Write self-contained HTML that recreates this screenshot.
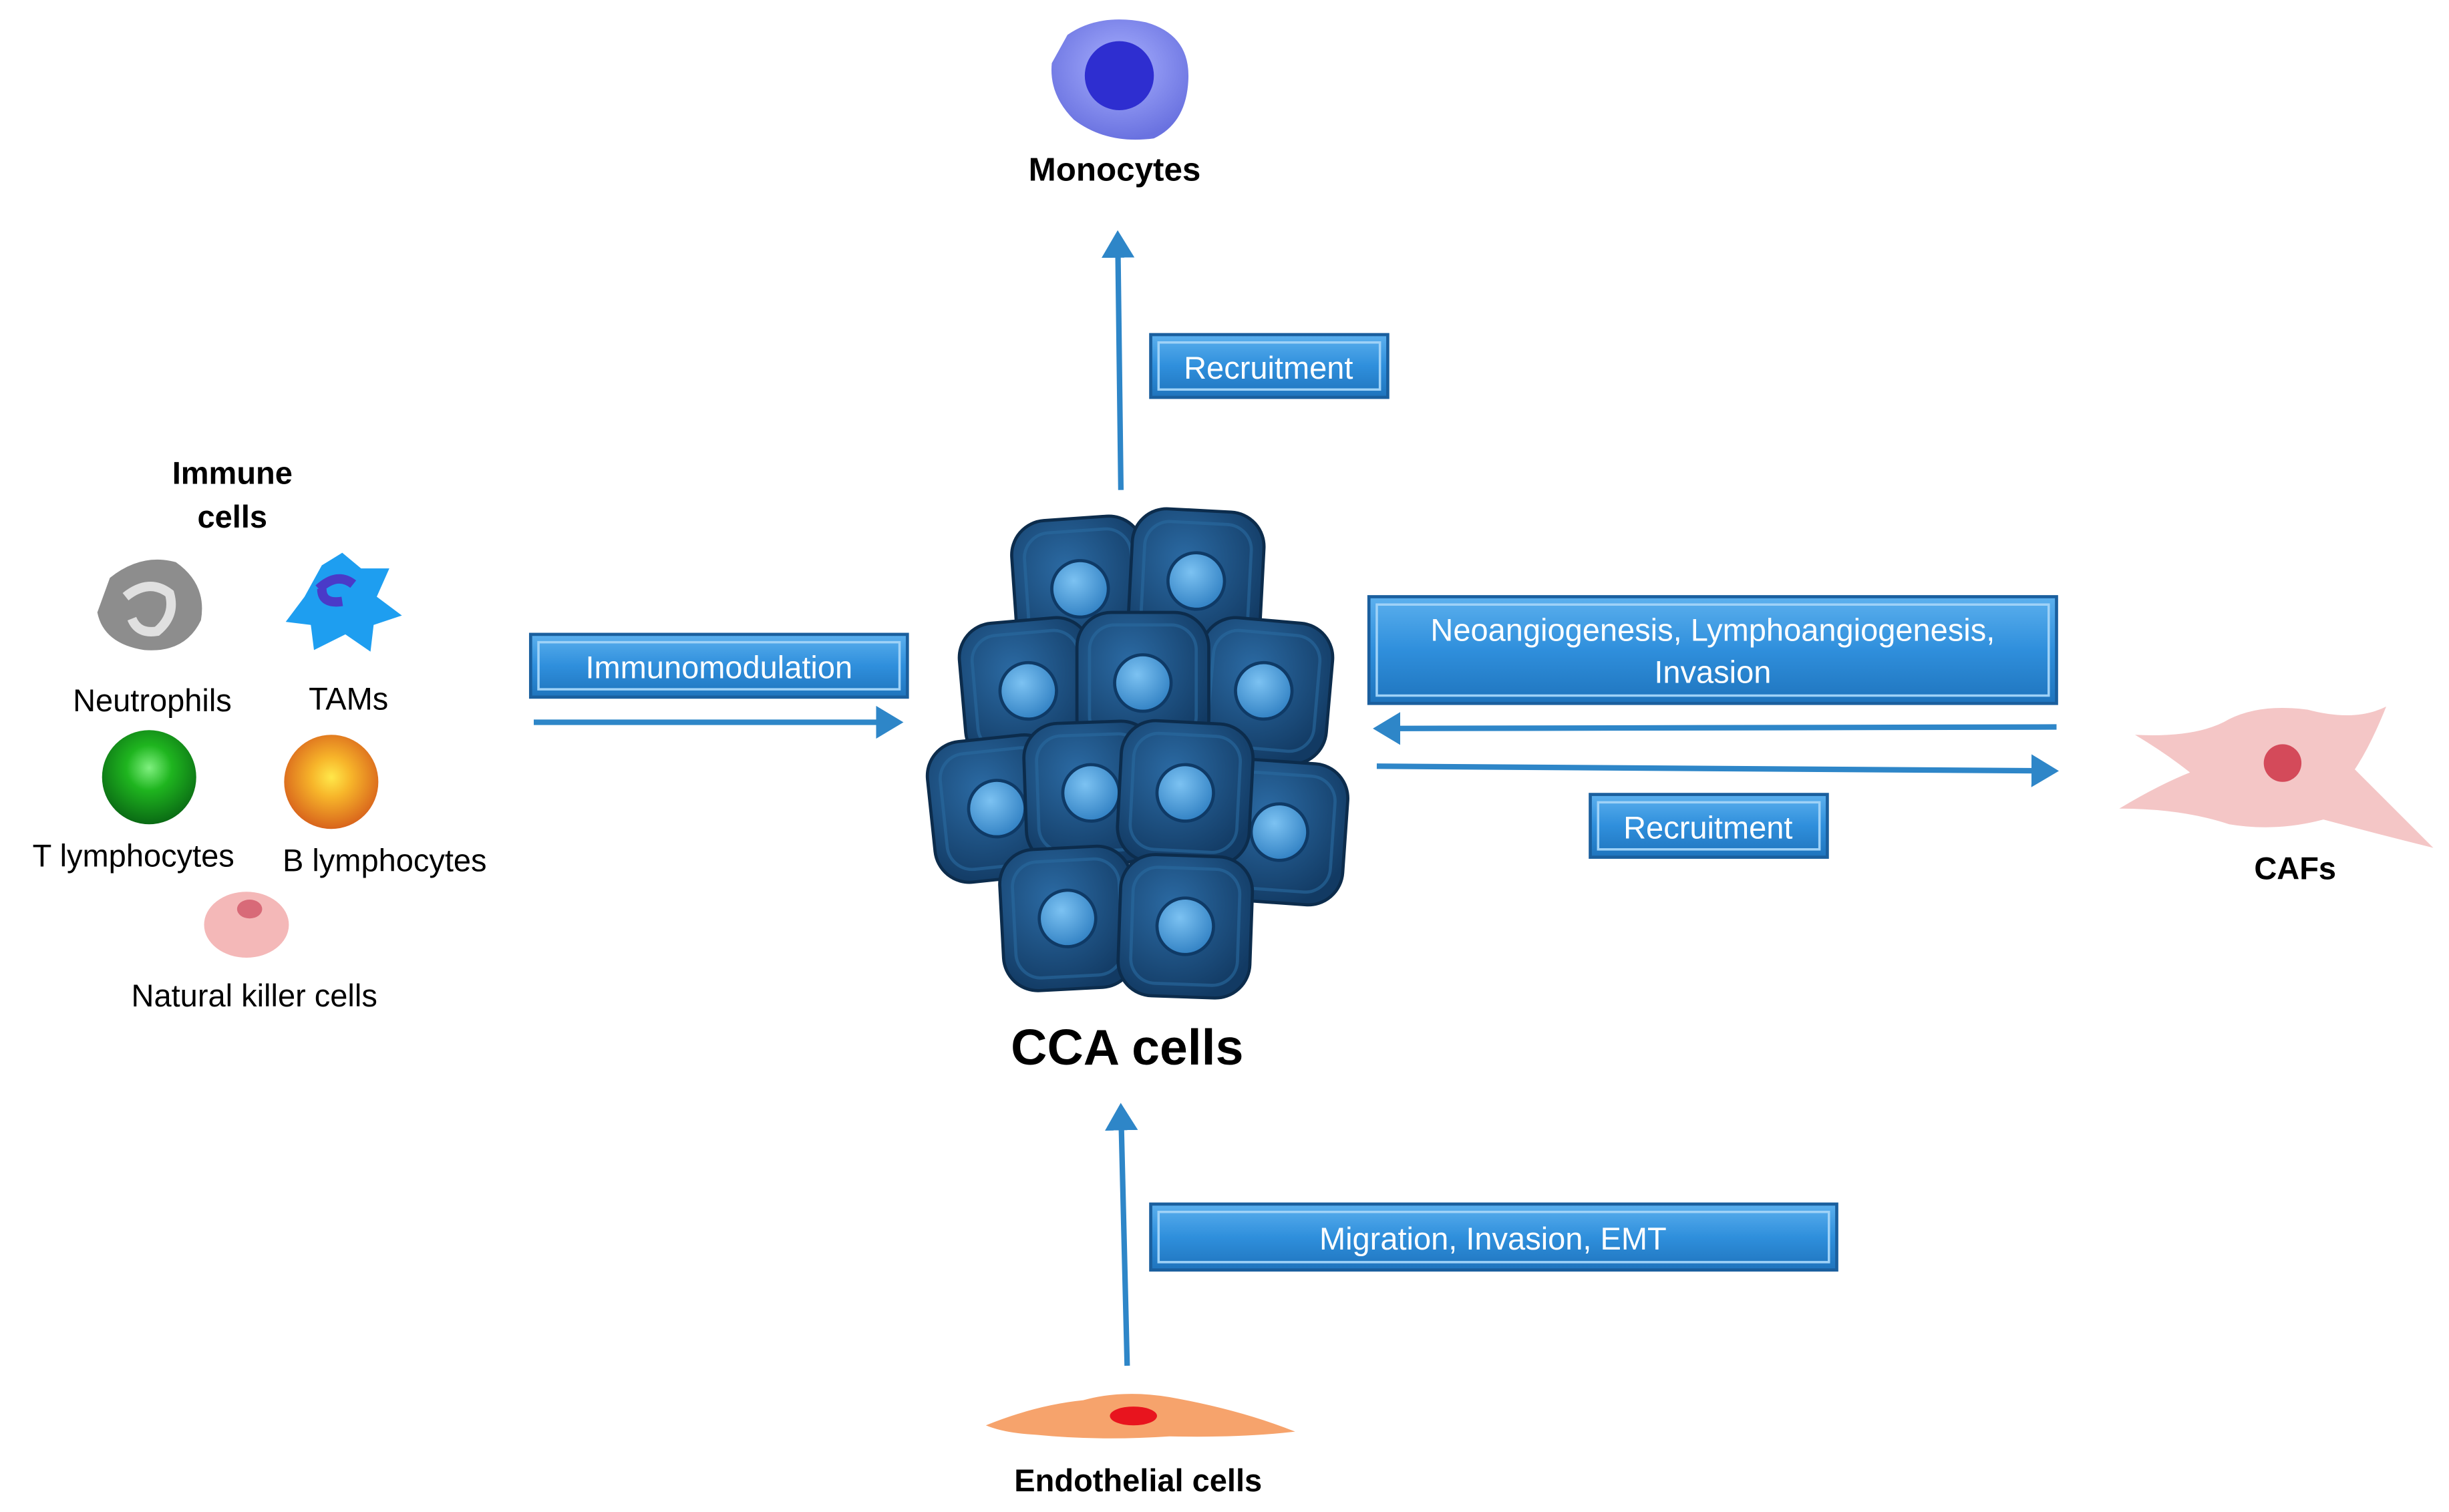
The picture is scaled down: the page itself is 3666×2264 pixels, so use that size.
<!DOCTYPE html>
<html><head><meta charset="utf-8"><style>
html,body{margin:0;padding:0;background:#fff;}
svg{display:block;}
text{font-family:"Liberation Sans",Arial,sans-serif;}
</style></head><body>
<svg width="3666" height="2264" viewBox="0 0 1560 963" xmlns="http://www.w3.org/2000/svg">
<defs>
<linearGradient id="bx" x1="0" y1="0" x2="0" y2="1">
<stop offset="0" stop-color="#5cb0ee"/><stop offset="0.5" stop-color="#2f8fdc"/><stop offset="1" stop-color="#1f74bd"/>
</linearGradient>
<radialGradient id="cell" cx="0.4" cy="0.35" r="0.7">
<stop offset="0" stop-color="#2b6aa3"/><stop offset="1" stop-color="#123a63"/>
</radialGradient>
<radialGradient id="nuc" cx="0.4" cy="0.35" r="0.7">
<stop offset="0" stop-color="#7cc2f2"/><stop offset="1" stop-color="#2f7fc2"/>
</radialGradient>
<radialGradient id="gr" cx="0.5" cy="0.4" r="0.6">
<stop offset="0" stop-color="#7ff07f"/><stop offset="0.4" stop-color="#1fb51f"/><stop offset="1" stop-color="#0a6a14"/>
</radialGradient>
<radialGradient id="or" cx="0.5" cy="0.45" r="0.6">
<stop offset="0" stop-color="#ffe84a"/><stop offset="0.35" stop-color="#f7b52a"/><stop offset="1" stop-color="#d4581a"/>
</radialGradient>
<radialGradient id="mono" cx="0.5" cy="0.4" r="0.6">
<stop offset="0" stop-color="#a8b0ff"/><stop offset="1" stop-color="#6a72e0"/>
</radialGradient>
<marker id="ah" markerWidth="6" markerHeight="6" refX="4" refY="3" orient="auto" markerUnits="strokeWidth">
<path d="M0,0 L5,3 L0,6 z" fill="#2e86c8"/></marker>
<g id="cc">
<rect x="-42" y="-45" width="84" height="90" rx="22" fill="url(#cell)" stroke="#0c2c4c" stroke-width="2"/>
<rect x="-34" y="-37" width="68" height="74" rx="16" fill="none" stroke="#2a6aa0" stroke-width="2" opacity="0.6"/>
<circle cx="0" cy="0" r="18" fill="url(#nuc)" stroke="#0f3a66" stroke-width="2"/>
</g>
</defs>

<!-- Monocyte -->
<path d="M680,22 Q700,8 730,14 Q758,22 757,50 Q756,78 735,88 Q705,92 684,76 Q668,60 670,40 Z" fill="url(#mono)"/>
<circle cx="713" cy="48" r="22" fill="#2e2ed0"/>
<text x="710" y="115" font-size="21" font-weight="bold" text-anchor="middle">Monocytes</text>

<!-- arrows -->
<g stroke="#2e86c8" stroke-width="3.5" fill="none" marker-end="url(#ah)">
<line x1="714" y1="312" x2="712" y2="150"/>
<line x1="340" y1="460" x2="572" y2="460"/>
<line x1="1310" y1="463" x2="878" y2="464"/>
<line x1="877" y1="488" x2="1308" y2="491"/>
<line x1="718" y1="870" x2="714" y2="706"/>
</g>

<!-- boxes -->
<g stroke="#1a5f9e" stroke-width="2">
<rect x="733" y="213" width="151" height="40" fill="url(#bx)"/>
<rect x="338" y="404" width="240" height="40" fill="url(#bx)"/>
<rect x="872" y="380" width="438" height="68" fill="url(#bx)"/>
<rect x="1013" y="506" width="151" height="40" fill="url(#bx)"/>
<rect x="733" y="767" width="437" height="42" fill="url(#bx)"/>
</g>
<g fill="none" stroke="#9fd2f7" stroke-width="1.5">
<rect x="738" y="218" width="141" height="30"/>
<rect x="343" y="409" width="230" height="30"/>
<rect x="877" y="385" width="428" height="58"/>
<rect x="1018" y="511" width="141" height="30"/>
<rect x="738" y="772" width="427" height="32"/>
</g>
<g fill="#fff" font-size="20" text-anchor="middle">
<text x="808" y="241">Recruitment</text>
<text x="458" y="432">Immunomodulation</text>
<text x="1091" y="408">Neoangiogenesis, Lymphoangiogenesis,</text>
<text x="1091" y="435">Invasion</text>
<text x="1088" y="534">Recruitment</text>
<text x="951" y="796">Migration, Invasion, EMT</text>
</g>

<!-- Immune cells -->
<text x="148" y="308" font-size="20" font-weight="bold" text-anchor="middle">Immune</text>
<text x="148" y="336" font-size="20" font-weight="bold" text-anchor="middle">cells</text>
<path d="M70,368 Q90,352 112,358 Q132,372 128,395 Q118,416 92,414 Q66,410 62,390 Z" fill="#8d8d8d"/>
<path d="M80,380 Q95,368 108,378 Q112,392 100,402 Q88,404 84,394" fill="none" stroke="#e0e0e0" stroke-width="6"/>
<path d="M205,360 L218,352 L230,362 L248,362 L240,380 L256,392 L238,398 L236,415 L220,404 L200,414 L198,398 L182,396 L194,380 Z" fill="#1e9ef0"/>
<path d="M203,375 Q215,364 225,372 M205,375 Q205,385 218,383" fill="none" stroke="#4a3ac8" stroke-width="6"/>
<text x="97" y="453" font-size="20" text-anchor="middle">Neutrophils</text>
<text x="222" y="452" font-size="20" text-anchor="middle">TAMs</text>
<circle cx="95" cy="495" r="30" fill="url(#gr)"/>
<circle cx="211" cy="498" r="30" fill="url(#or)"/>
<text x="85" y="552" font-size="20" text-anchor="middle">T lymphocytes</text>
<text x="245" y="555" font-size="20" text-anchor="middle">B lymphocytes</text>
<ellipse cx="157" cy="589" rx="27" ry="21" fill="#f4b8b8"/>
<ellipse cx="159" cy="579" rx="8" ry="6" fill="#d86a78"/>
<text x="162" y="641" font-size="20" text-anchor="middle">Natural killer cells</text>

<!-- CCA cluster -->
<use href="#cc" transform="translate(688,375) rotate(-4)"/>
<use href="#cc" transform="translate(762,370) rotate(3)"/>
<use href="#cc" transform="translate(805,440) rotate(5)"/>
<use href="#cc" transform="translate(655,440) rotate(-5)"/>
<use href="#cc" transform="translate(728,435)"/>
<use href="#cc" transform="translate(815,530) rotate(4)"/>
<use href="#cc" transform="translate(635,515) rotate(-6)"/>
<use href="#cc" transform="translate(695,505) rotate(-2)"/>
<use href="#cc" transform="translate(755,505) rotate(3)"/>
<use href="#cc" transform="translate(680,585) rotate(-3)"/>
<use href="#cc" transform="translate(755,590) rotate(2)"/>
<text x="718" y="678" font-size="32" font-weight="bold" text-anchor="middle">CCA cells</text>

<!-- CAF -->
<path d="M1360,468 Q1400,470 1420,458 Q1440,448 1470,452 Q1500,460 1520,450 Q1510,475 1500,490 Q1520,510 1550,540 Q1510,530 1480,522 Q1450,530 1420,525 Q1390,515 1350,515 Q1375,500 1395,492 Q1380,480 1360,468 Z" fill="#f4c6c6"/>
<circle cx="1454" cy="486" r="12" fill="#d44a5a"/>
<text x="1462" y="560" font-size="20" font-weight="bold" text-anchor="middle">CAFs</text>

<!-- Endothelial -->
<path d="M628,908 Q660,895 690,892 Q715,885 745,890 Q790,898 825,912 Q790,916 745,915 Q700,918 660,914 Q640,913 628,908 Z" fill="#f6a36c"/>
<ellipse cx="722" cy="902" rx="15" ry="6" fill="#e8141e"/>
<text x="725" y="950" font-size="20" font-weight="bold" text-anchor="middle">Endothelial cells</text>
</svg>
</body></html>
